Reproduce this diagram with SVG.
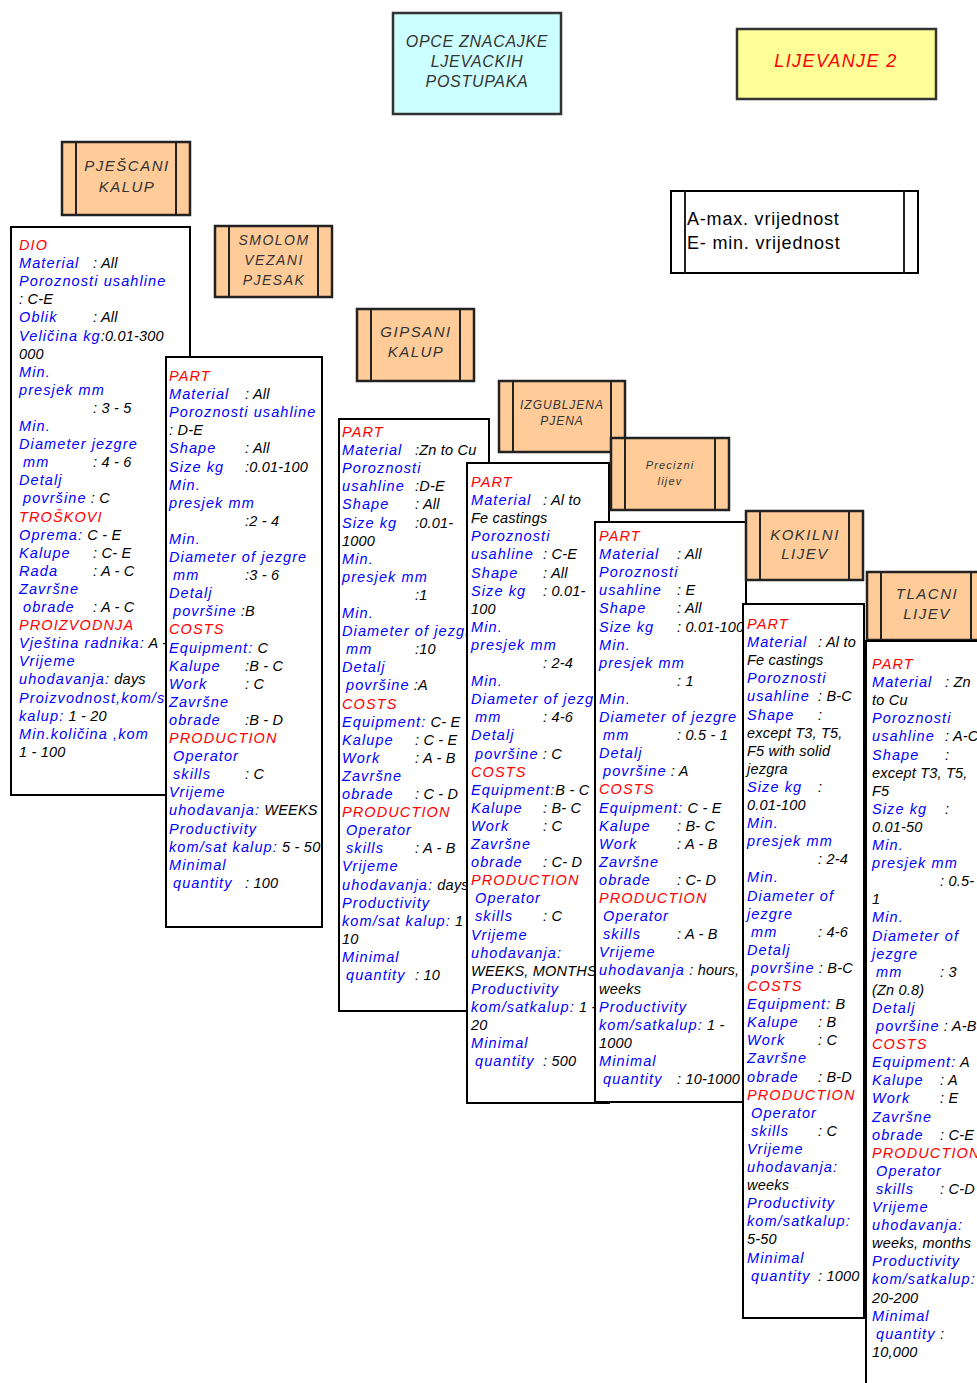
<svg xmlns="http://www.w3.org/2000/svg" width="977" height="1383" viewBox="0 0 977 1383">
<style>
.bg{fill:#ffffff}
.tb{fill:#ffffff;stroke:#000;stroke-width:2}
.ob{fill:#ffcc99;stroke:#222;stroke-width:2.5}
.il{stroke:#222;stroke-width:2}
.ht{font-family:"Liberation Sans",Arial,sans-serif;font-style:italic;font-size:15px;letter-spacing:1.5px;fill:#333;text-anchor:middle}
.t{font-family:"Liberation Sans",Arial,sans-serif;font-style:italic;font-size:14.5px;letter-spacing:1.1px}
.r{fill:#ff0000}
.b{fill:#0000ff}
.k{fill:#000000;letter-spacing:0.2px}
</style>
<rect class="bg" x="0" y="0" width="977" height="1383"/>
<g id="connectors"/>
<g id="title">
<rect x="393" y="13" width="168" height="101" fill="#ccffff" stroke="#333" stroke-width="2.5"/>
<text class="ht" style="font-size:16px;letter-spacing:0.7px"><tspan x="477" y="47">OPCE ZNACAJKE</tspan><tspan x="477" y="67">LJEVACKIH</tspan><tspan x="477" y="87">POSTUPAKA</tspan></text>
</g>
<g id="lijevanje2">
<rect x="737" y="29" width="199" height="70" fill="#ffff99" stroke="#333" stroke-width="2.5"/>
<text class="ht" x="836" y="67" style="font-size:18px;letter-spacing:1.4px;fill:#ff0000">LIJEVANJE 2</text>
</g>
<g id="legend">
<rect x="671" y="191" width="247" height="82" fill="#fff" stroke="#000" stroke-width="2"/>
<line class="il" x1="685" y1="191" x2="685" y2="273"/>
<line class="il" x1="904" y1="191" x2="904" y2="273"/>
<text font-family="Liberation Sans, Arial, sans-serif" font-size="18" letter-spacing="0.8" fill="#000"><tspan x="687" y="225">A-max. vrijednost</tspan><tspan x="687" y="249">E- min. vrijednost</tspan></text>
</g>

<g id="h-pjescani">
<rect class="ob" x="62" y="142" width="128" height="73"/>
<line class="il" x1="76" y1="142" x2="76" y2="215"/><line class="il" x1="176" y1="142" x2="176" y2="215"/>
<text class="ht"><tspan x="127" y="171">PJEŠCANI</tspan><tspan x="127" y="192">KALUP</tspan></text>
</g>
<g id="box-pjescani">
<rect class="tb" x="11" y="227" width="179" height="568"/>
<text class="t">
<tspan x="19" y="250" class="r">DIO</tspan>
<tspan x="19" dy="18.1" class="b">Material</tspan><tspan x="93" class="k">: All</tspan>
<tspan x="19" dy="18.1" class="b">Poroznosti usahline</tspan>
<tspan x="19" dy="18.1" class="k">: C-E</tspan>
<tspan x="19" dy="18.1" class="b">Oblik</tspan><tspan x="93" class="k">: All</tspan>
<tspan x="19" dy="18.1" class="b">Veličina kg</tspan><tspan class="k">:0.01-300</tspan>
<tspan x="19" dy="18.1" class="k">000</tspan>
<tspan x="19" dy="18.1" class="b">Min.</tspan>
<tspan x="19" dy="18.1" class="b">presjek mm</tspan>
<tspan x="93" dy="18.1" class="k">: 3 - 5</tspan>
<tspan x="19" dy="18.1" class="b">Min.</tspan>
<tspan x="19" dy="18.1" class="b">Diameter  jezgre</tspan>
<tspan x="23" dy="18.1" class="b">mm</tspan><tspan x="93" class="k">: 4 - 6</tspan>
<tspan x="19" dy="18.1" class="b">Detalj</tspan>
<tspan x="23" dy="18.1" class="b">površine</tspan><tspan class="k"> : C</tspan>
<tspan x="19" dy="18.1" class="r">TROŠKOVI</tspan>
<tspan x="19" dy="18.1" class="b">Oprema:</tspan><tspan class="k"> C - E</tspan>
<tspan x="19" dy="18.1" class="b">Kalupe</tspan><tspan x="93" class="k">: C- E</tspan>
<tspan x="19" dy="18.1" class="b">Rada</tspan><tspan x="93" class="k">: A - C</tspan>
<tspan x="19" dy="18.1" class="b">Završne</tspan>
<tspan x="23" dy="18.1" class="b">obrade</tspan><tspan x="93" class="k">: A - C</tspan>
<tspan x="19" dy="18.1" class="r">PROIZVODNJA</tspan>
<tspan x="19" dy="18.1" class="b">Vještina radnika:</tspan><tspan class="k"> A -</tspan>
<tspan x="19" dy="18.1" class="b">Vrijeme</tspan>
<tspan x="19" dy="18.1" class="b">uhodavanja:</tspan><tspan class="k"> days</tspan>
<tspan x="19" dy="18.1" class="b">Proizvodnost,kom/sat</tspan>
<tspan x="19" dy="18.1" class="b">kalup:</tspan><tspan class="k"> 1 - 20</tspan>
<tspan x="19" dy="18.1" class="b">Min.količina ,kom</tspan>
<tspan x="19" dy="18.1" class="k">1 - 100</tspan>
</text>
</g>

<g id="h-smolom">
<rect class="ob" x="215" y="226" width="117" height="71"/>
<line class="il" x1="229" y1="226" x2="229" y2="297"/><line class="il" x1="318" y1="226" x2="318" y2="297"/>
<text class="ht" style="font-size:14px"><tspan x="274" y="245">SMOLOM</tspan><tspan x="274" y="265">VEZANI</tspan><tspan x="274" y="285">PJESAK</tspan></text>
</g>
<g id="box-smolom">
<rect class="tb" x="166" y="357" width="156" height="570"/>
<text class="t">
<tspan x="169" y="381" class="r">PART</tspan>
<tspan x="169" dy="18.1" class="b">Material</tspan><tspan x="245" class="k">: All</tspan>
<tspan x="169" dy="18.1" class="b">Poroznosti usahline</tspan>
<tspan x="169" dy="18.1" class="k">: D-E</tspan>
<tspan x="169" dy="18.1" class="b">Shape</tspan><tspan x="245" class="k">: All</tspan>
<tspan x="169" dy="18.1" class="b">Size kg</tspan><tspan x="245" class="k">:0.01-100</tspan>
<tspan x="169" dy="18.1" class="b">Min.</tspan>
<tspan x="169" dy="18.1" class="b">presjek mm</tspan>
<tspan x="245" dy="18.1" class="k">:2 - 4</tspan>
<tspan x="169" dy="18.1" class="b">Min.</tspan>
<tspan x="169" dy="18.1" class="b">Diameter of jezgre</tspan>
<tspan x="173" dy="18.1" class="b">mm</tspan><tspan x="245" class="k">:3 - 6</tspan>
<tspan x="169" dy="18.1" class="b">Detalj</tspan>
<tspan x="173" dy="18.1" class="b">površine</tspan><tspan class="k"> :B</tspan>
<tspan x="169" dy="18.1" class="r">COSTS</tspan>
<tspan x="169" dy="18.1" class="b">Equipment:</tspan><tspan class="k"> C</tspan>
<tspan x="169" dy="18.1" class="b">Kalupe</tspan><tspan x="245" class="k">:B - C</tspan>
<tspan x="169" dy="18.1" class="b">Work</tspan><tspan x="245" class="k">: C</tspan>
<tspan x="169" dy="18.1" class="b">Završne</tspan>
<tspan x="169" dy="18.1" class="b">obrade</tspan><tspan x="245" class="k">:B - D</tspan>
<tspan x="169" dy="18.1" class="r">PRODUCTION</tspan>
<tspan x="173" dy="18.1" class="b">Operator</tspan>
<tspan x="173" dy="18.1" class="b">skills</tspan><tspan x="245" class="k">: C</tspan>
<tspan x="169" dy="18.1" class="b">Vrijeme</tspan>
<tspan x="169" dy="18.1" class="b">uhodavanja:</tspan><tspan class="k"> WEEKS</tspan>
<tspan x="169" dy="18.1" class="b">Productivity</tspan>
<tspan x="169" dy="18.1" class="b">kom/sat kalup:</tspan><tspan class="k"> 5 - 50</tspan>
<tspan x="169" dy="18.1" class="b">Minimal</tspan>
<tspan x="173" dy="18.1" class="b">quantity</tspan><tspan x="245" class="k">: 100</tspan>
</text>
</g>

<g id="h-gipsani">
<rect class="ob" x="357" y="309" width="117" height="72"/>
<line class="il" x1="371" y1="309" x2="371" y2="381"/><line class="il" x1="460" y1="309" x2="460" y2="381"/>
<text class="ht"><tspan x="416" y="337">GIPSANI</tspan><tspan x="416" y="357">KALUP</tspan></text>
</g>
<g id="box-gipsani">
<rect class="tb" x="339" y="419" width="150" height="592"/>
<text class="t">
<tspan x="342" y="437" class="r">PART</tspan>
<tspan x="342" dy="18.1" class="b">Material</tspan><tspan x="415" class="k">:Zn to Cu</tspan>
<tspan x="342" dy="18.1" class="b">Poroznosti</tspan>
<tspan x="342" dy="18.1" class="b">usahline</tspan><tspan x="415" class="k">:D-E</tspan>
<tspan x="342" dy="18.1" class="b">Shape</tspan><tspan x="415" class="k">: All</tspan>
<tspan x="342" dy="18.1" class="b">Size kg</tspan><tspan x="415" class="k">:0.01-</tspan>
<tspan x="342" dy="18.1" class="k">1000</tspan>
<tspan x="342" dy="18.1" class="b">Min.</tspan>
<tspan x="342" dy="18.1" class="b">presjek mm</tspan>
<tspan x="415" dy="18.1" class="k">:1</tspan>
<tspan x="342" dy="18.1" class="b">Min.</tspan>
<tspan x="342" dy="18.1" class="b">Diameter of jezgre</tspan>
<tspan x="346" dy="18.1" class="b">mm</tspan><tspan x="415" class="k">:10</tspan>
<tspan x="342" dy="18.1" class="b">Detalj</tspan>
<tspan x="346" dy="18.1" class="b">površine</tspan><tspan class="k"> :A</tspan>
<tspan x="342" dy="18.1" class="r">COSTS</tspan>
<tspan x="342" dy="18.1" class="b">Equipment:</tspan><tspan class="k"> C- E</tspan>
<tspan x="342" dy="18.1" class="b">Kalupe</tspan><tspan x="415" class="k">: C - E</tspan>
<tspan x="342" dy="18.1" class="b">Work</tspan><tspan x="415" class="k">: A - B</tspan>
<tspan x="342" dy="18.1" class="b">Završne</tspan>
<tspan x="342" dy="18.1" class="b">obrade</tspan><tspan x="415" class="k">: C - D</tspan>
<tspan x="342" dy="18.1" class="r">PRODUCTION</tspan>
<tspan x="346" dy="18.1" class="b">Operator</tspan>
<tspan x="346" dy="18.1" class="b">skills</tspan><tspan x="415" class="k">: A - B</tspan>
<tspan x="342" dy="18.1" class="b">Vrijeme</tspan>
<tspan x="342" dy="18.1" class="b">uhodavanja:</tspan><tspan class="k"> days</tspan>
<tspan x="342" dy="18.1" class="b">Productivity</tspan>
<tspan x="342" dy="18.1" class="b">kom/sat kalup:</tspan><tspan class="k"> 1 -</tspan>
<tspan x="342" dy="18.1" class="k">10</tspan>
<tspan x="342" dy="18.1" class="b">Minimal</tspan>
<tspan x="346" dy="18.1" class="b">quantity</tspan><tspan x="415" class="k">: 10</tspan>
</text>
</g>

<g id="h-izgubljena">
<rect class="ob" x="499" y="381" width="126" height="71"/>
<line class="il" x1="513" y1="381" x2="513" y2="452"/><line class="il" x1="611" y1="381" x2="611" y2="452"/>
<text class="ht" style="font-size:12px;letter-spacing:1px"><tspan x="562" y="409">IZGUBLJENA</tspan><tspan x="562" y="425">PJENA</tspan></text>
</g>
<g id="box-izgubljena">
<rect class="tb" x="467" y="463" width="142" height="640"/>
<text class="t">
<tspan x="471" y="487" class="r">PART</tspan>
<tspan x="471" dy="18.1" class="b">Material</tspan><tspan x="543" class="k">: Al to</tspan>
<tspan x="471" dy="18.1" class="k">Fe  castings</tspan>
<tspan x="471" dy="18.1" class="b">Poroznosti</tspan>
<tspan x="471" dy="18.1" class="b">usahline</tspan><tspan x="543" class="k">: C-E</tspan>
<tspan x="471" dy="18.1" class="b">Shape</tspan><tspan x="543" class="k">: All</tspan>
<tspan x="471" dy="18.1" class="b">Size kg</tspan><tspan x="543" class="k">: 0.01-</tspan>
<tspan x="471" dy="18.1" class="k">100</tspan>
<tspan x="471" dy="18.1" class="b">Min.</tspan>
<tspan x="471" dy="18.1" class="b">presjek mm</tspan>
<tspan x="543" dy="18.1" class="k">: 2-4</tspan>
<tspan x="471" dy="18.1" class="b">Min.</tspan>
<tspan x="471" dy="18.1" class="b">Diameter of jezgre</tspan>
<tspan x="475" dy="18.1" class="b">mm</tspan><tspan x="543" class="k">: 4-6</tspan>
<tspan x="471" dy="18.1" class="b">Detalj</tspan>
<tspan x="475" dy="18.1" class="b">površine</tspan><tspan class="k"> : C</tspan>
<tspan x="471" dy="18.1" class="r">COSTS</tspan>
<tspan x="471" dy="18.1" class="b">Equipment:</tspan><tspan class="k">B - C</tspan>
<tspan x="471" dy="18.1" class="b">Kalupe</tspan><tspan x="543" class="k">: B- C</tspan>
<tspan x="471" dy="18.1" class="b">Work</tspan><tspan x="543" class="k">: C</tspan>
<tspan x="471" dy="18.1" class="b">Završne</tspan>
<tspan x="471" dy="18.1" class="b">obrade</tspan><tspan x="543" class="k">: C- D</tspan>
<tspan x="471" dy="18.1" class="r">PRODUCTION</tspan>
<tspan x="475" dy="18.1" class="b">Operator</tspan>
<tspan x="475" dy="18.1" class="b">skills</tspan><tspan x="543" class="k">: C</tspan>
<tspan x="471" dy="18.1" class="b">Vrijeme</tspan>
<tspan x="471" dy="18.1" class="b">uhodavanja:</tspan>
<tspan x="471" dy="18.1" class="k">WEEKS, MONTHS</tspan>
<tspan x="471" dy="18.1" class="b">Productivity</tspan>
<tspan x="471" dy="18.1" class="b">kom/satkalup:</tspan><tspan class="k"> 1 -</tspan>
<tspan x="471" dy="18.1" class="k">20</tspan>
<tspan x="471" dy="18.1" class="b">Minimal</tspan>
<tspan x="475" dy="18.1" class="b">quantity</tspan><tspan x="543" class="k">: 500</tspan>
</text>
</g>

<g id="h-precizni">
<rect class="ob" x="611" y="438" width="118" height="72"/>
<line class="il" x1="625" y1="438" x2="625" y2="510"/><line class="il" x1="715" y1="438" x2="715" y2="510"/>
<text class="ht" style="font-size:11px;letter-spacing:1.2px"><tspan x="670" y="469">Precizni</tspan><tspan x="670" y="485">lijev</tspan></text>
</g>
<g id="box-precizni">
<rect class="tb" x="595" y="522" width="151" height="580"/>
<text class="t">
<tspan x="599" y="541" class="r">PART</tspan>
<tspan x="599" dy="18.1" class="b">Material</tspan><tspan x="677" class="k">: All</tspan>
<tspan x="599" dy="18.1" class="b">Poroznosti</tspan>
<tspan x="599" dy="18.1" class="b">usahline</tspan><tspan x="677" class="k">: E</tspan>
<tspan x="599" dy="18.1" class="b">Shape</tspan><tspan x="677" class="k">: All</tspan>
<tspan x="599" dy="18.1" class="b">Size kg</tspan><tspan x="677" class="k">: 0.01-100</tspan>
<tspan x="599" dy="18.1" class="b">Min.</tspan>
<tspan x="599" dy="18.1" class="b">presjek mm</tspan>
<tspan x="677" dy="18.1" class="k">: 1</tspan>
<tspan x="599" dy="18.1" class="b">Min.</tspan>
<tspan x="599" dy="18.1" class="b">Diameter of jezgre</tspan>
<tspan x="603" dy="18.1" class="b">mm</tspan><tspan x="677" class="k">: 0.5 - 1</tspan>
<tspan x="599" dy="18.1" class="b">Detalj</tspan>
<tspan x="603" dy="18.1" class="b">površine</tspan><tspan class="k"> : A</tspan>
<tspan x="599" dy="18.1" class="r">COSTS</tspan>
<tspan x="599" dy="18.1" class="b">Equipment:</tspan><tspan class="k"> C - E</tspan>
<tspan x="599" dy="18.1" class="b">Kalupe</tspan><tspan x="677" class="k">: B- C</tspan>
<tspan x="599" dy="18.1" class="b">Work</tspan><tspan x="677" class="k">: A - B</tspan>
<tspan x="599" dy="18.1" class="b">Završne</tspan>
<tspan x="599" dy="18.1" class="b">obrade</tspan><tspan x="677" class="k">: C- D</tspan>
<tspan x="599" dy="18.1" class="r">PRODUCTION</tspan>
<tspan x="603" dy="18.1" class="b">Operator</tspan>
<tspan x="603" dy="18.1" class="b">skills</tspan><tspan x="677" class="k">: A - B</tspan>
<tspan x="599" dy="18.1" class="b">Vrijeme</tspan>
<tspan x="599" dy="18.1" class="b">uhodavanja</tspan><tspan class="k"> : hours,</tspan>
<tspan x="599" dy="18.1" class="k">weeks</tspan>
<tspan x="599" dy="18.1" class="b">Productivity</tspan>
<tspan x="599" dy="18.1" class="b">kom/satkalup:</tspan><tspan class="k"> 1 -</tspan>
<tspan x="599" dy="18.1" class="k">1000</tspan>
<tspan x="599" dy="18.1" class="b">Minimal</tspan>
<tspan x="603" dy="18.1" class="b">quantity</tspan><tspan x="677" class="k">: 10-1000</tspan>
</text>
</g>

<g id="h-kokilni">
<rect class="ob" x="746" y="511" width="117" height="69"/>
<line class="il" x1="760" y1="511" x2="760" y2="580"/><line class="il" x1="849" y1="511" x2="849" y2="580"/>
<text class="ht"><tspan x="805" y="540">KOKILNI</tspan><tspan x="805" y="559">LIJEV</tspan></text>
</g>
<g id="box-kokilni">
<rect class="tb" x="743" y="604" width="121" height="714"/>
<text class="t">
<tspan x="747" y="629" class="r">PART</tspan>
<tspan x="747" dy="18.1" class="b">Material</tspan><tspan x="818" class="k">: Al to</tspan>
<tspan x="747" dy="18.1" class="k">Fe  castings</tspan>
<tspan x="747" dy="18.1" class="b">Poroznosti</tspan>
<tspan x="747" dy="18.1" class="b">usahline</tspan><tspan x="818" class="k">: B-C</tspan>
<tspan x="747" dy="18.1" class="b">Shape</tspan><tspan x="818" class="k">:</tspan>
<tspan x="747" dy="18.1" class="k">except T3, T5,</tspan>
<tspan x="747" dy="18.1" class="k">F5 with solid</tspan>
<tspan x="747" dy="18.1" class="k">jezgra</tspan>
<tspan x="747" dy="18.1" class="b">Size kg</tspan><tspan x="818" class="k">:</tspan>
<tspan x="747" dy="18.1" class="k">0.01-100</tspan>
<tspan x="747" dy="18.1" class="b">Min.</tspan>
<tspan x="747" dy="18.1" class="b">presjek mm</tspan>
<tspan x="818" dy="18.1" class="k">: 2-4</tspan>
<tspan x="747" dy="18.1" class="b">Min.</tspan>
<tspan x="747" dy="18.1" class="b">Diameter of</tspan>
<tspan x="747" dy="18.1" class="b">jezgre</tspan>
<tspan x="751" dy="18.1" class="b">mm</tspan><tspan x="818" class="k">: 4-6</tspan>
<tspan x="747" dy="18.1" class="b">Detalj</tspan>
<tspan x="751" dy="18.1" class="b">površine</tspan><tspan class="k"> : B-C</tspan>
<tspan x="747" dy="18.1" class="r">COSTS</tspan>
<tspan x="747" dy="18.1" class="b">Equipment:</tspan><tspan class="k"> B</tspan>
<tspan x="747" dy="18.1" class="b">Kalupe</tspan><tspan x="818" class="k">: B</tspan>
<tspan x="747" dy="18.1" class="b">Work</tspan><tspan x="818" class="k">: C</tspan>
<tspan x="747" dy="18.1" class="b">Završne</tspan>
<tspan x="747" dy="18.1" class="b">obrade</tspan><tspan x="818" class="k">: B-D</tspan>
<tspan x="747" dy="18.1" class="r">PRODUCTION</tspan>
<tspan x="751" dy="18.1" class="b">Operator</tspan>
<tspan x="751" dy="18.1" class="b">skills</tspan><tspan x="818" class="k">: C</tspan>
<tspan x="747" dy="18.1" class="b">Vrijeme</tspan>
<tspan x="747" dy="18.1" class="b">uhodavanja:</tspan>
<tspan x="747" dy="18.1" class="k">weeks</tspan>
<tspan x="747" dy="18.1" class="b">Productivity</tspan>
<tspan x="747" dy="18.1" class="b">kom/satkalup:</tspan>
<tspan x="747" dy="18.1" class="k">5-50</tspan>
<tspan x="747" dy="18.1" class="b">Minimal</tspan>
<tspan x="751" dy="18.1" class="b">quantity</tspan><tspan x="818" class="k">: 1000</tspan>
</text>
</g>

<g id="h-tlacni">
<rect class="ob" x="867" y="572" width="118" height="68"/>
<line class="il" x1="881" y1="572" x2="881" y2="640"/><line class="il" x1="971" y1="572" x2="971" y2="640"/>
<text class="ht"><tspan x="927" y="599">TLACNI</tspan><tspan x="927" y="619">LIJEV</tspan></text>
</g>
<g id="box-tlacni">
<rect class="tb" x="866" y="641" width="122" height="760"/>
<text class="t">
<tspan x="872" y="669" class="r">PART</tspan>
<tspan x="872" dy="18.1" class="b">Material</tspan><tspan x="945" class="k">: Zn</tspan>
<tspan x="872" dy="18.1" class="k">to Cu</tspan>
<tspan x="872" dy="18.1" class="b">Poroznosti</tspan>
<tspan x="872" dy="18.1" class="b">usahline</tspan><tspan x="945" class="k">: A-C</tspan>
<tspan x="872" dy="18.1" class="b">Shape</tspan><tspan x="945" class="k">:</tspan>
<tspan x="872" dy="18.1" class="k">except T3, T5,</tspan>
<tspan x="872" dy="18.1" class="k">F5</tspan>
<tspan x="872" dy="18.1" class="b">Size kg</tspan><tspan x="945" class="k">:</tspan>
<tspan x="872" dy="18.1" class="k">0.01-50</tspan>
<tspan x="872" dy="18.1" class="b">Min.</tspan>
<tspan x="872" dy="18.1" class="b">presjek mm</tspan>
<tspan x="940" dy="18.1" class="k">: 0.5-</tspan>
<tspan x="872" dy="18.1" class="k">1</tspan>
<tspan x="872" dy="18.1" class="b">Min.</tspan>
<tspan x="872" dy="18.1" class="b">Diameter of</tspan>
<tspan x="872" dy="18.1" class="b">jezgre</tspan>
<tspan x="876" dy="18.1" class="b">mm</tspan><tspan x="940" class="k">: 3</tspan>
<tspan x="872" dy="18.1" class="k">(Zn 0.8)</tspan>
<tspan x="872" dy="18.1" class="b">Detalj</tspan>
<tspan x="876" dy="18.1" class="b">površine</tspan><tspan class="k"> : A-B</tspan>
<tspan x="872" dy="18.1" class="r">COSTS</tspan>
<tspan x="872" dy="18.1" class="b">Equipment:</tspan><tspan class="k"> A</tspan>
<tspan x="872" dy="18.1" class="b">Kalupe</tspan><tspan x="940" class="k">: A</tspan>
<tspan x="872" dy="18.1" class="b">Work</tspan><tspan x="940" class="k">: E</tspan>
<tspan x="872" dy="18.1" class="b">Završne</tspan>
<tspan x="872" dy="18.1" class="b">obrade</tspan><tspan x="940" class="k">: C-E</tspan>
<tspan x="872" dy="18.1" class="r">PRODUCTION</tspan>
<tspan x="876" dy="18.1" class="b">Operator</tspan>
<tspan x="876" dy="18.1" class="b">skills</tspan><tspan x="940" class="k">: C-D</tspan>
<tspan x="872" dy="18.1" class="b">Vrijeme</tspan>
<tspan x="872" dy="18.1" class="b">uhodavanja:</tspan>
<tspan x="872" dy="18.1" class="k">weeks, months</tspan>
<tspan x="872" dy="18.1" class="b">Productivity</tspan>
<tspan x="872" dy="18.1" class="b">kom/satkalup:</tspan>
<tspan x="872" dy="18.1" class="k">20-200</tspan>
<tspan x="872" dy="18.1" class="b">Minimal</tspan>
<tspan x="876" dy="18.1" class="b">quantity</tspan><tspan x="940" class="k">:</tspan>
<tspan x="872" dy="18.1" class="k">10,000</tspan>
</text>
</g>
</svg>
